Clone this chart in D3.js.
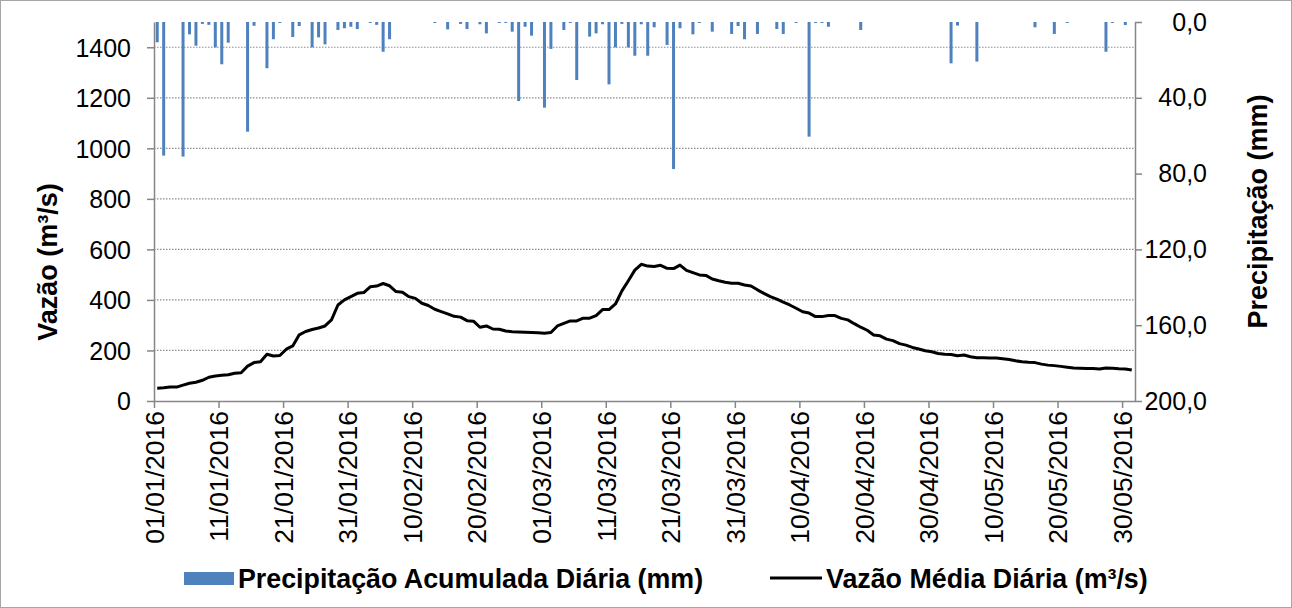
<!DOCTYPE html>
<html><head><meta charset="utf-8">
<script src="https://cdn.jsdelivr.net/npm/d3@7"></script>
<style>
html,body{margin:0;padding:0;background:#fff;}
svg{display:block;font-family:"Liberation Sans",Arial,sans-serif;}
</style></head>
<body><svg id="c" width="1292" height="608"></svg>
<script>
// Daily mean flow (m³/s), 01/01/2016 .. 31/05/2016
const vazao = [50,52,55,55,63,70,74,82,94,99,102,104,110,112,138,152,155,185,178,180,
205,218,262,275,283,289,297,321,380,400,413,426,429,452,455,465,456,433,430,413,
406,387,378,363,354,345,335,332,318,316,292,297,285,284,277,274,273,272,271,270,
268,271,297,307,317,317,328,328,338,362,362,384,436,476,518,541,534,532,537,525,
524,538,517,508,499,497,483,476,470,466,466,459,455,440,426,413,403,391,380,367,
353,348,334,334,338,338,327,321,306,292,280,261,258,245,239,227,221,212,206,199,
195,188,185,184,179,182,175,171,171,170,170,167,164,159,155,153,152,146,142,140,
137,134,131,130,129,129,127,131,130,128,127,123];
// Daily accumulated precipitation (mm)
const precip = [10.7,70.5,0,0,71,6.5,12.5,1,1.5,13.4,22.3,10.9,0,0,57.9,2,0,24.4,9.1,0.5,
0,7.9,2.1,0,13.4,8.1,11.8,0,4.2,3.3,2.5,3.7,0,0.5,1.5,15.7,9.1,0,0,0,
0,0,0,0.5,0,3.9,0,1,3.7,0,1.2,6,0,0.5,0.5,5.1,41.7,2.5,7.2,0,
45.2,14.2,0,4.2,0.5,30.6,0,7.7,6,1.2,32.9,13.4,1,13.4,17.8,1.2,17.8,2.8,0,12.1,
77.6,3.3,0,6.5,0.5,0,5.1,0,0,6.3,2.1,9.1,0,6.3,0,0,3.7,6.3,0,0.5,
0,60.5,0.5,0.5,2.5,0,0,0,0,4.2,0,0,0,0,0,0,0,0,0,0,
0,0,0,21.8,1.9,0,0,20.9,0,0,0,0,0,0,0,0,2.8,0,0,6.3,
0,0.5,0,0,0,0,0,15.7,0.5,0,1.6,0];
const xTickDays = [0,10,20,30,40,50,60,70,80,90,100,110,120,130,140,150];
const xTickLabels = ["01/01/2016","11/01/2016","21/01/2016","31/01/2016","10/02/2016","20/02/2016",
"01/03/2016","11/03/2016","21/03/2016","31/03/2016","10/04/2016","20/04/2016","30/04/2016",
"10/05/2016","20/05/2016","30/05/2016"];
const leftTicks = [0,200,400,600,800,1000,1200,1400];
const rightTicks = [0,40,80,120,160,200];
const leftTitle = "Vazão (m³/s)";
const rightTitle = "Precipitação (mm)";
const legendPrecip = "Precipitação Acumulada Diária (mm)";
const legendVazao = "Vazão Média Diária (m³/s)";

const svg = d3.select("#c");
const L=154, R=1135, T=22, B=401;
const axisColor="#868686", barColor="#4F81BD";
const nDays = vazao.length;
const x = d3.scaleLinear().domain([0, nDays]).range([L, R]);
const yL = d3.scaleLinear().domain([0,1500]).range([B,T]);
const yR = d3.scaleLinear().domain([0,200]).range([T,B]);

svg.append("rect").attr("x",0.5).attr("y",0.5).attr("width",1291).attr("height",607)
  .attr("fill","#fff").attr("stroke","#a6a6a6").attr("stroke-width",1);

// gridlines
svg.append("g").selectAll("line").data(leftTicks.filter(d=>d>0)).join("line")
  .attr("x1",L).attr("x2",R).attr("y1",d=>yL(d)).attr("y2",d=>yL(d))
  .attr("stroke","#8c8c8c").attr("stroke-width",1.2).attr("stroke-dasharray","1.5,1.5");

// precipitation bars
svg.append("g").selectAll("rect").data(precip.map((v,i)=>({v,i})).filter(d=>d.v>0)).join("rect")
  .attr("x",d=>x(d.i+0.5)-1.5).attr("width",3)
  .attr("y",yR(0)).attr("height",d=>Math.max(0.8,yR(d.v)-yR(0)))
  .attr("fill",barColor);

// flow line
const line = d3.line().x((d,i)=>x(i+0.5)).y(d=>yL(d));
svg.append("path").datum(vazao).attr("d",line).attr("fill","none")
  .attr("stroke","#000").attr("stroke-width",3).attr("stroke-linejoin","round");

// axes
function styleAxis(g, fs){
  g.select(".domain").attr("stroke",axisColor).attr("stroke-width",1.5);
  g.selectAll(".tick line").attr("stroke",axisColor).attr("stroke-width",1.5);
  g.selectAll("text").attr("fill","#000").attr("font-size",fs)
   .attr("font-family","'Liberation Sans',Arial,sans-serif");
}
const gl = svg.append("g").attr("transform",`translate(${L},0)`)
  .call(d3.axisLeft(yL).tickValues(leftTicks).tickSize(7).tickPadding(16).tickSizeOuter(0).tickFormat(d3.format("d")));
styleAxis(gl, 25);
gl.selectAll(".tick text").attr("dy","0.35em");

const gr = svg.append("g").attr("transform",`translate(${R},0)`)
  .call(d3.axisRight(yR).tickValues(rightTicks).tickSize(7).tickPadding(6).tickSizeOuter(0)
  .tickFormat(d=>d.toFixed(1).replace(".",",")));
styleAxis(gr, 25);
gr.selectAll(".tick text").attr("text-anchor","end").attr("x",72);

const gx = svg.append("g").attr("transform",`translate(0,${B})`)
  .call(d3.axisBottom(x).tickValues(xTickDays).tickSize(7).tickSizeOuter(0)
  .tickFormat((d,i)=>xTickLabels[i]));
styleAxis(gx, 26.5);
gx.selectAll(".tick text").attr("transform","rotate(-90)").attr("text-anchor","end")
  .attr("x",-10).attr("y",0).attr("dy","0.35em");

// titles
svg.append("text").attr("transform",`translate(57,262) rotate(-90)`)
  .attr("text-anchor","middle").attr("font-weight","bold").attr("font-size",27).text(leftTitle);
svg.append("text").attr("transform",`translate(1267,${(T+B)/2}) rotate(-90)`)
  .attr("text-anchor","middle").attr("font-weight","bold").attr("font-size",27).text(rightTitle);

// legend
const lg = svg.append("g").attr("font-weight","bold").attr("font-size",26.8);
lg.append("rect").attr("x",184).attr("y",572).attr("width",50).attr("height",13).attr("fill",barColor);
lg.append("text").attr("x",238).attr("y",588).text(legendPrecip);
lg.append("line").attr("x1",770).attr("x2",822).attr("y1",578).attr("y2",578).attr("stroke","#000").attr("stroke-width",3);
lg.append("text").attr("x",826).attr("y",588).text(legendVazao);
</script></body></html>
